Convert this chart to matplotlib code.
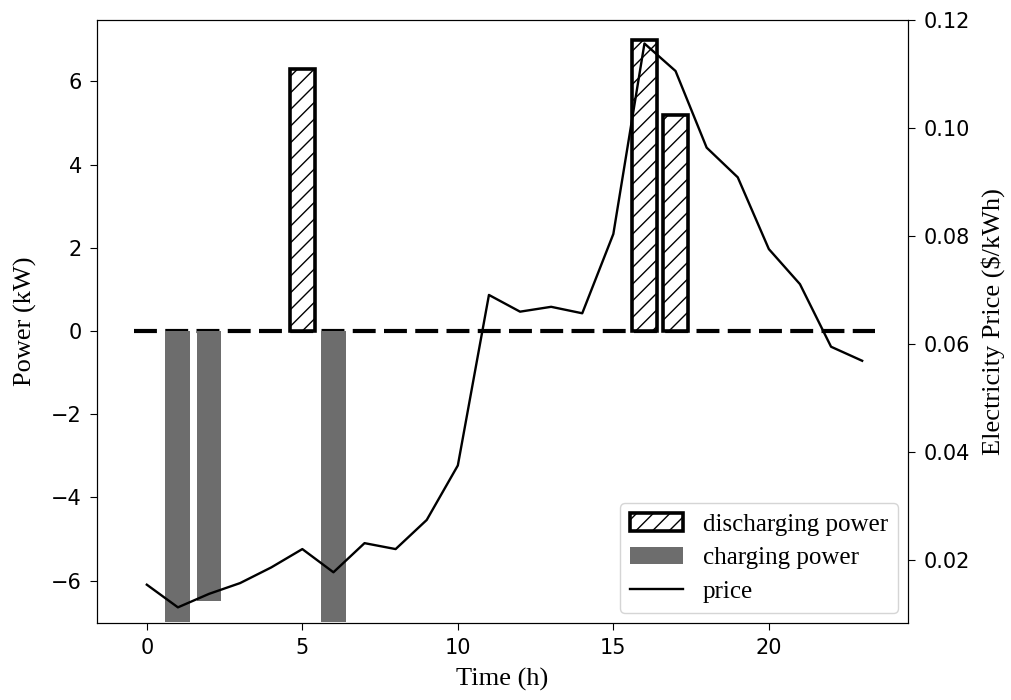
import numpy as np
import matplotlib
matplotlib.use("Agg")
import matplotlib.pyplot as plt
from matplotlib.patches import Patch
from matplotlib.lines import Line2D

hours = list(range(24))
discharging = [0, 0, 0, 0, 0, 6.3, 0, 0, 0, 0, 0, 0,
               0, 0, 0, 0, 7.0, 5.2, 0, 0, 0, 0, 0, 0]
charging = [0, -7.0, -6.5, 0, 0, 0, -7.0, 0, 0, 0, 0, 0,
            0, 0, 0, 0, 0, 0, 0, 0, 0, 0, 0, 0]
price = [0.0154, 0.0112, 0.0137, 0.0157, 0.0186, 0.0220, 0.0177, 0.0231,
         0.0220, 0.0274, 0.0375, 0.0691, 0.0660, 0.0669, 0.0657, 0.0804,
         0.1157, 0.1106, 0.0964, 0.0909, 0.0776, 0.0711, 0.0595, 0.0569]
xticks = [0, 5, 10, 15, 20]
left_ticks = [-6, -4, -2, 0, 2, 4, 6]
right_ticks = [0.02, 0.04, 0.06, 0.08, 0.10, 0.12]

serif = "Liberation Serif"
gray = '#6d6d6d'

matplotlib.rcParams['hatch.linewidth'] = 1.0

fig = plt.figure(figsize=(10.11, 7.0), dpi=100)
ax = fig.add_axes([0.096, 0.110, 0.802, 0.861])

h = np.array(hours)
d = np.array(discharging)
c = np.array(charging)
md = d != 0
mc = c != 0

ax.bar(h[md], d[md], width=0.8, facecolor='white', edgecolor='black',
       linewidth=2.6, hatch='//', zorder=2)
ax.bar(h[mc], c[mc], width=0.8, color=gray, zorder=2)
ax.hlines(0, -0.4, 23.4, colors='black', linewidth=3.0,
          linestyles=(0, (5.5, 2.0)), zorder=1)

ax.set_xlim(-1.6, 24.47)
ax.set_ylim(-7.02, 7.47)
ax.set_xticks(xticks)
ax.set_yticks(left_ticks)
ax.tick_params(labelsize=15, length=5, pad=6)
ax.set_xlabel("Time (h)", fontfamily=serif, fontsize=19, labelpad=7)
ax.set_ylabel("Power (kW)", fontfamily=serif, fontsize=19, labelpad=10)

ax2 = ax.twinx()
ax2.plot(hours, price, color='black', linewidth=1.7, zorder=3)
ax2.set_ylim(0.0083, 0.12)
ax2.set_yticks(right_ticks)
ax2.tick_params(labelsize=15, length=5, pad=6)
ax2.set_ylabel("Electricity Price ($/kWh)", fontfamily=serif, fontsize=19, labelpad=8)

handles = [
    Patch(facecolor='white', edgecolor='black', linewidth=2.6, hatch='//'),
    Patch(facecolor=gray),
    Line2D([0], [0], color='black', linewidth=1.7),
]
labels = ["discharging power", "charging power", "price"]
ax2.legend(handles, labels, loc='lower right', prop={'family': serif, 'size': 18},
           framealpha=1.0, edgecolor='#d5d5d5', handlelength=2.1,
           borderaxespad=0.4, labelspacing=0.45)

fig.savefig("out.png", dpi=100)
